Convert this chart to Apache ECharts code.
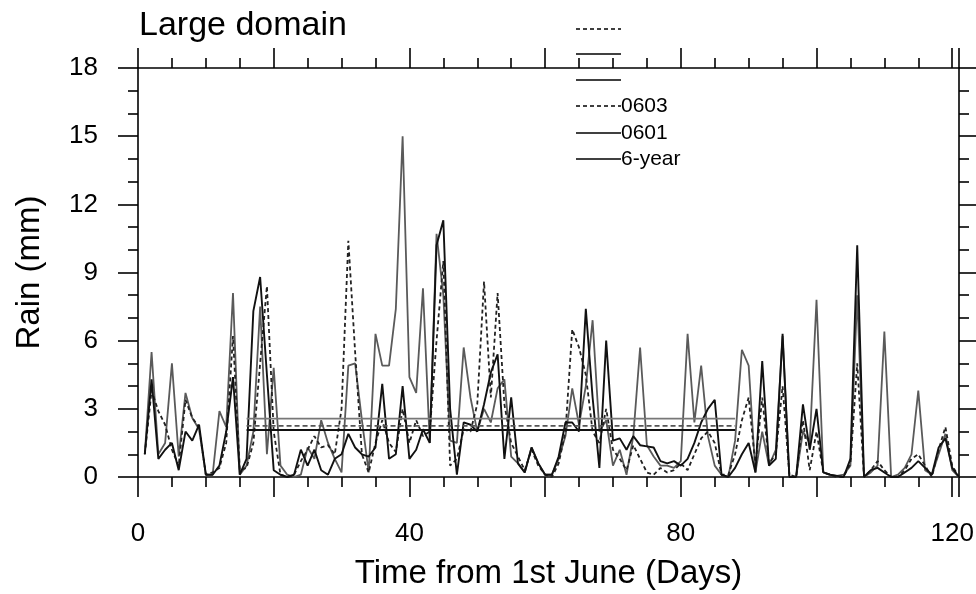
<!DOCTYPE html>
<html>
<head>
<meta charset="utf-8">
<title>Large domain</title>
<script src="https://cdn.jsdelivr.net/npm/echarts@6/dist/echarts.min.js"></script>
<style>
  html,body{margin:0;padding:0;background:#fff;}
  #main{width:976px;height:594px;}
</style>
</head>
<body>
<div id="main"></div>
<script>
// days from 1st June
var days = [];
for (var d = 1; d <= 121; d++) { days.push(d); }

// 6-year run (black solid)
var rain6year = [1.0,4.3,0.8,1.2,1.5,0.3,2.0,1.6,2.3,0.1,
  0.1,0.5,2.0,4.4,0.1,0.8,7.3,8.8,4.5,0.3,
  0.1,0.0,0.1,1.2,0.5,1.2,0.3,0.1,0.8,1.0,
  1.9,1.3,1.0,0.9,1.3,4.1,0.8,1.0,4.0,0.8,
  1.2,2.1,1.5,10.2,11.3,3.0,0.1,2.4,2.3,2.0,
  3.2,4.6,5.4,0.8,3.5,0.6,0.2,1.3,0.6,0.1,
  0.1,0.9,2.4,2.4,2.0,7.4,3.5,0.4,6.0,1.6,
  1.7,1.2,1.8,1.4,1.35,1.3,0.7,0.6,0.7,0.5,
  0.8,1.5,2.4,3.0,3.4,0.1,0.0,0.4,1.0,1.5,
  0.2,5.1,0.5,0.8,6.3,0.0,0.0,3.2,1.2,3.0,
  0.2,0.1,0.05,0.0,0.8,10.2,0.0,0.3,0.4,0.2,
  0.0,0.0,0.2,0.4,0.7,0.4,0.1,1.3,1.7,0.4,0.0];

// 0601 run (grey solid)
var rain0601 = [1.0,5.5,1.0,1.5,5.0,0.9,3.7,2.6,2.1,0.1,
  0.1,2.9,2.2,8.1,0.1,0.5,2.0,7.5,1.0,4.8,
  0.5,0.1,0.0,0.1,1.3,0.8,2.5,1.5,0.8,0.2,
  4.9,5.0,2.5,0.2,6.3,4.9,4.9,7.4,15.0,4.4,
  3.7,8.3,1.5,10.7,8.0,1.6,1.5,5.7,3.5,2.0,
  3.0,2.4,3.9,4.3,0.9,0.6,0.2,1.3,0.6,0.1,
  0.1,0.8,1.8,3.9,2.3,4.0,6.9,2.0,2.5,0.5,
  1.2,0.1,1.8,5.7,1.4,0.9,0.5,0.5,0.4,0.7,
  6.3,2.4,4.9,1.8,0.5,0.1,0.0,1.6,5.6,4.9,
  0.2,2.0,0.5,1.2,6.2,0.0,0.0,2.0,1.5,7.8,
  0.2,0.1,0.05,0.1,0.5,8.0,0.0,0.2,0.5,6.4,
  0.0,0.1,0.4,1.0,3.8,0.3,0.1,1.0,1.9,0.3,0.0];

// 0603 run (dashed)
var rain0603 = [1.0,3.8,2.9,2.3,1.2,0.5,3.4,2.6,2.2,0.1,
  0.2,0.4,1.5,6.2,0.3,0.4,1.5,5.0,8.4,2.0,
  0.1,0.0,0.1,0.7,1.2,1.8,1.3,1.4,1.0,3.0,
  10.4,5.5,1.0,0.2,1.5,2.5,1.5,1.1,3.0,1.5,
  2.5,1.8,2.0,6.0,9.5,0.5,0.8,2.1,2.0,3.2,
  8.6,3.5,8.1,3.2,1.5,0.9,0.3,1.2,0.5,0.1,
  0.0,0.6,2.0,6.5,5.7,4.5,2.0,1.5,3.0,1.2,
  0.8,0.3,1.4,0.8,0.2,0.1,0.4,0.2,0.3,0.6,
  0.3,1.0,1.7,2.0,1.5,0.1,0.1,1.0,2.5,3.5,
  0.5,3.5,0.6,1.0,4.0,0.1,0.0,2.5,0.3,2.0,
  0.2,0.1,0.0,0.0,0.6,5.0,0.0,0.3,0.7,0.3,
  0.0,0.0,0.3,0.8,1.0,0.5,0.0,1.2,2.2,0.5,0.0];

// means over day 16-88
var meanFrom = 16, meanTo = 88;
var mean0601 = 2.57, mean0603 = 2.25, mean6year = 2.07;

var yTicks = [0, 3, 6, 9, 12, 15, 18];
var xLabels = [0, 40, 80, 120];

var FONT = 'Liberation Sans, Arial, sans-serif';

function pairs(xs, ys){
  var out = [];
  for (var i = 0; i < xs.length; i++) { out.push([xs[i], ys[i]]); }
  return out;
}
function meanLine(v){
  return [[meanFrom, v], [meanTo, v]];
}
function lineSeries(name, data, color, type, width){
  return {
    name: name, type: 'line', data: data, xAxisIndex: 0, yAxisIndex: 0,
    showSymbol: false, symbol: 'none', silent: true, animation: false,
    lineStyle: {color: color, width: width, type: type}
  };
}

function axisX(pos, showLabel){
  return {
    type: 'value', position: pos, min: 0, max: 121, interval: 20,
    axisLine: {show: true, onZero: false, lineStyle: {color: '#000', width: 1.6}},
    axisTick: {show: true, inside: false, length: 20, lineStyle: {color: '#000', width: 1.6}},
    minorTick: {show: true, splitNumber: 4, length: 10, lineStyle: {color: '#000', width: 1.6}},
    splitLine: {show: false}, minorSplitLine: {show: false},
    axisLabel: {
      show: showLabel, margin: 44, color: '#000', fontSize: 26, fontFamily: FONT,
      showMaxLabel: false,
      formatter: function(v){ return xLabels.indexOf(v) >= 0 ? String(v) : ''; }
    }
  };
}
function axisY(pos, showLabel){
  return {
    type: 'value', position: pos, min: yTicks[0], max: yTicks[yTicks.length-1], interval: 3,
    axisLine: {show: true, onZero: false, lineStyle: {color: '#000', width: 1.6}},
    axisTick: {show: true, inside: false, length: 20, lineStyle: {color: '#000', width: 1.6}},
    minorTick: {show: true, splitNumber: 3, length: 10, lineStyle: {color: '#000', width: 1.6}},
    splitLine: {show: false}, minorSplitLine: {show: false},
    axisLabel: {show: showLabel, margin: 40, color: '#000', fontSize: 26, fontFamily: FONT}
  };
}

var xBottom = axisX('bottom', true);
xBottom.name = 'Time from 1st June (Days)';
xBottom.nameLocation = 'middle';
xBottom.nameGap = 80;
xBottom.nameTextStyle = {color: '#000', fontSize: 33, fontFamily: FONT};

var yLeft = axisY('left', true);
yLeft.name = 'Rain (mm)';
yLeft.nameLocation = 'middle';
yLeft.nameGap = 92;
yLeft.nameTextStyle = {color: '#000', fontSize: 33, fontFamily: FONT};

// NCL style legend drawn with graphic elements
function legendLine(y, dashed){
  return {type: 'line', shape: {x1: 576, y1: y, x2: 621, y2: y},
    style: {stroke: '#000', lineWidth: 1.6, lineDash: dashed ? [4, 3] : null}};
}
function legendText(y, txt){
  return {type: 'text', x: 621, y: y, style: {text: txt, fill: '#000', font: '21px ' + FONT,
    verticalAlign: 'middle'}};
}

var myChart = echarts.init(document.getElementById('main'), null, {renderer: 'canvas'});
var option = {
  backgroundColor: '#fff',
  animation: false,
  title: {
    text: 'Large domain', left: 134, top: 4,
    textStyle: {color: '#000', fontSize: 34, fontWeight: 'normal', fontFamily: FONT}
  },
  grid: {left: 138, right: 17, top: 68, bottom: 117, containLabel: false, outerBoundsMode: 'none'},
  xAxis: [xBottom, axisX('top', false)],
  yAxis: [yLeft, axisY('right', false)],
  graphic: [
    legendLine(29, true), legendLine(54, false), legendLine(80, false),
    legendLine(106, true), legendText(106, '0603'),
    legendLine(133, false), legendText(133, '0601'),
    legendLine(159, false), legendText(159, '6-year')
  ],
  series: [
    lineSeries('0601', pairs(days, rain0601), '#5a5a5a', 'solid', 1.8),
    lineSeries('0603', pairs(days, rain0603), '#222', [4, 3], 1.8),
    lineSeries('6-year', pairs(days, rain6year), '#111', 'solid', 1.9),
    lineSeries('0601 mean', meanLine(mean0601), '#777', 'solid', 1.8),
    lineSeries('0603 mean', meanLine(mean0603), '#555', [5, 3], 1.8),
    lineSeries('6-year mean', meanLine(mean6year), '#111', 'solid', 2)
  ]
};
myChart.setOption(option);
</script>
</body>
</html>
